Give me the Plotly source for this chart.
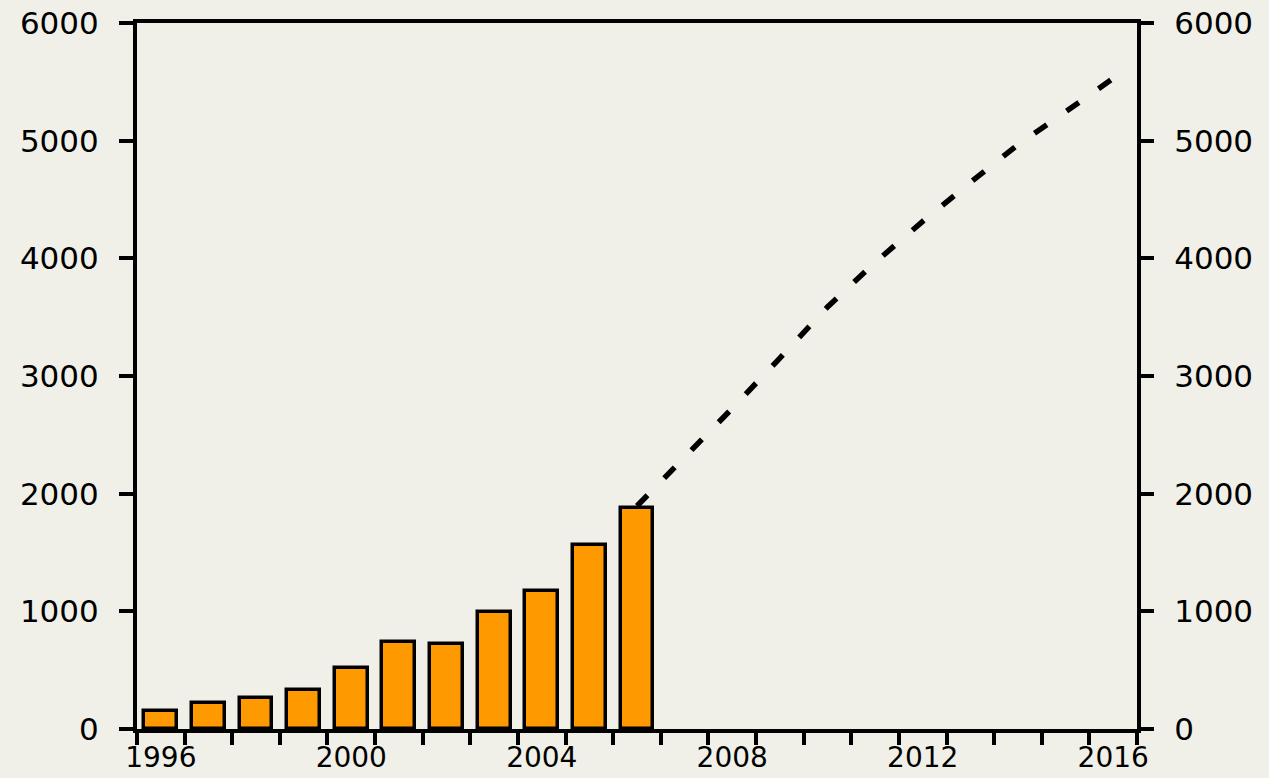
import plotly.graph_objects as go

# Data
years = [1996, 1997, 1998, 1999, 2000, 2001, 2002, 2003, 2004, 2005, 2006]
values = [150, 218, 263, 333, 516, 742, 722, 994, 1176, 1567, 1881]

proj_years = [2006, 2007, 2008, 2009, 2010, 2011, 2012, 2013, 2014, 2015, 2016]
proj_values = [1895, 2304, 2725, 3152, 3587, 3965, 4314, 4645, 4966, 5245, 5530]

tick_years = list(range(1996, 2018))
label_years = [1996, 2000, 2004, 2008, 2012, 2016]
y_ticks = [0, 1000, 2000, 3000, 4000, 5000, 6000]

bg = "#F0F0E9"
font = dict(family="DejaVu Sans", size=31, color="#000000")

fig = go.Figure()
fig.add_trace(go.Bar(
    x=[y + 0.5 for y in years], y=values, width=0.69,
    marker=dict(color="#FF9900", line=dict(color="#000000", width=3.5)),
    xaxis="x", yaxis="y", showlegend=False,
))
fig.add_trace(go.Scatter(
    x=[y + 0.5 for y in proj_years], y=proj_values, mode="lines",
    line=dict(color="#000000", width=5.5, dash="15px,24px"),
    xaxis="x", yaxis="y", showlegend=False,
))
# invisible trace to activate secondary axes
fig.add_trace(go.Scatter(x=[1996.5], y=[0], mode="markers", marker=dict(opacity=0),
                         xaxis="x2", yaxis="y2", showlegend=False, hoverinfo="skip"))

fig.update_layout(
    width=1269, height=778,
    margin=dict(l=137, r=132, t=23, b=49, autoexpand=False),
    paper_bgcolor=bg, plot_bgcolor=bg,
    font=font,
    bargap=0,
    xaxis=dict(range=[1996, 2017], tickmode="array", tickvals=tick_years,
               ticktext=["" for _ in tick_years], ticks="outside", ticklen=12,
               tickwidth=3.5, tickcolor="#000", showline=True, linecolor="#000",
               linewidth=3.5, mirror=True, showgrid=False, zeroline=False,
               automargin=False),
    xaxis2=dict(range=[1996, 2017], overlaying="x", anchor="y", side="bottom",
                tickmode="array", tickvals=[y + 0.5 for y in label_years],
                ticktext=[str(y) for y in label_years], ticks="outside", ticklen=3,
                tickcolor="rgba(0,0,0,0)", tickfont=dict(size=28),
                showline=False, showgrid=False,
                zeroline=False, automargin=False),
    yaxis=dict(range=[0, 6000], tickmode="array", tickvals=y_ticks,
               ticks="outside", ticklen=14, tickwidth=3.5, tickcolor="#000",
               showline=True, linecolor="#000", linewidth=4, showgrid=False,
               zeroline=False, ticklabelstandoff=14, automargin=False),
    yaxis2=dict(range=[0, 6000], overlaying="y", anchor="x", side="right",
                tickmode="array", tickvals=y_ticks, ticks="outside", ticklen=13,
                tickwidth=3.5, tickcolor="#000", showline=True, linecolor="#000",
                linewidth=4, showgrid=False, zeroline=False,
                ticklabelstandoff=14, automargin=False),
)

fig.write_html(
    "out.html",
    config={"displayModeBar": False},
    post_script="document.body.style.margin='0';document.body.style.background='%s';" % bg,
)
